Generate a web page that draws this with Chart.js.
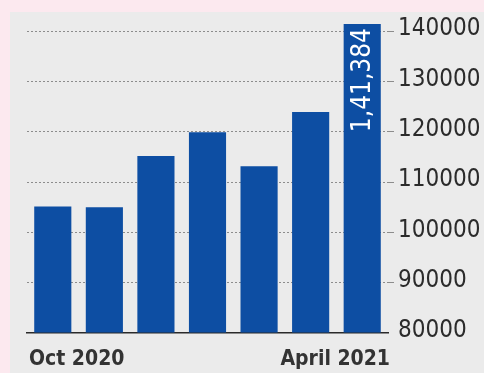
<!DOCTYPE html>
<html>
<head>
<meta charset="utf-8">
<script src="https://cdn.jsdelivr.net/npm/chart.js@4"></script>
<style>
  html, body { margin: 0; padding: 0; }
  body { width: 484px; height: 373px; background: #fce9ef; position: relative; overflow: hidden; }
  #panel { position: absolute; left: 10px; top: 12px; width: 474px; height: 361px; background: #ebebeb; }
  #wrap { position: absolute; left: 0; top: 0; width: 484px; height: 373px; }
</style>
</head>
<body>
<div id="panel"></div>
<div id="wrap"><canvas id="c"></canvas></div>
<script>
"use strict";

// ── Data ──────────────────────────────────────────────────────────────
const months = ['Oct 2020', 'Nov 2020', 'Dec 2020', 'Jan 2021', 'Feb 2021', 'Mar 2021', 'April 2021'];
const gst    = [105155, 104963, 115174, 119875, 113143, 123902, 141384];
const shownLabels = ['Oct 2020', '', '', '', '', '', 'April 2021'];
const lastLabel = '1,41,384';

const BLUE = '#0d4ea3';
const FONT = 'DejaVu Sans Condensed';

// label inside the last bar, rotated
const barLabel = {
  id: 'barLabel',
  afterDatasetsDraw(chart) {
    const { ctx } = chart;
    const bar = chart.getDatasetMeta(0).data[gst.length - 1];
    ctx.save();
    ctx.translate(bar.x, bar.y + 4);
    ctx.rotate(-Math.PI / 2);
    ctx.fillStyle = '#ffffff';
    ctx.font = '26px "' + FONT + '"';
    ctx.textAlign = 'right';
    ctx.textBaseline = 'middle';
    ctx.fillText(lastLabel, 0, 1);
    ctx.restore();
  }
};

new Chart(document.getElementById('c'), {
  type: 'bar',
  data: {
    labels: months,
    datasets: [{
      data: gst,
      backgroundColor: BLUE,
      borderWidth: 0,
      barPercentage: 0.72,
      categoryPercentage: 1.0,
      base: 80000,
      clip: false,
    }]
  },
  options: {
    responsive: true,
    maintainAspectRatio: false,
    animation: false,
    layout: { padding: { left: 27, top: 31, right: 0, bottom: 0 } },
    plugins: { legend: { display: false }, tooltip: { enabled: false } },
    scales: {
      x: {
        grid: { display: false },
        border: { display: true, color: '#2a2a2a', width: 1.5 },
        ticks: { display: false },
        afterFit: s => { s.height = 0; },
      },
      // label-only axis: ticks sit on category edges so end labels hug the plot ends
      xl: {
        type: 'category',
        position: 'bottom',
        labels: shownLabels,
        offset: false,
        grid: { display: false },
        border: { display: false },
        afterFit: s => { s.height = 40; },
        ticks: {
          autoSkip: false,
          maxRotation: 0,
          align: 'inner',
          labelOffset: 2,
          padding: 6,
          color: '#333333',
          font: { family: FONT, size: 21, weight: 'bold' },
        }
      },
      y: {
        position: 'right',
        min: 80000, max: 140000,
        afterFit: s => { s.width = 96; },
        grid: {
          color: c => c.tick && c.tick.value === 80000 ? 'rgba(0,0,0,0)' : '#8c8c8c',
          lineWidth: 1,
          drawTicks: true,
          tickLength: 6,
        },
        border: { display: false, dash: [2, 2] },
        ticks: {
          stepSize: 10000,
          padding: 4,
          labelOffset: -2,
          color: '#2b2b2b',
          font: { family: FONT, size: 24 },
          callback: v => String(v),
        }
      }
    }
  },
  plugins: [barLabel]
});
</script>
</body>
</html>
